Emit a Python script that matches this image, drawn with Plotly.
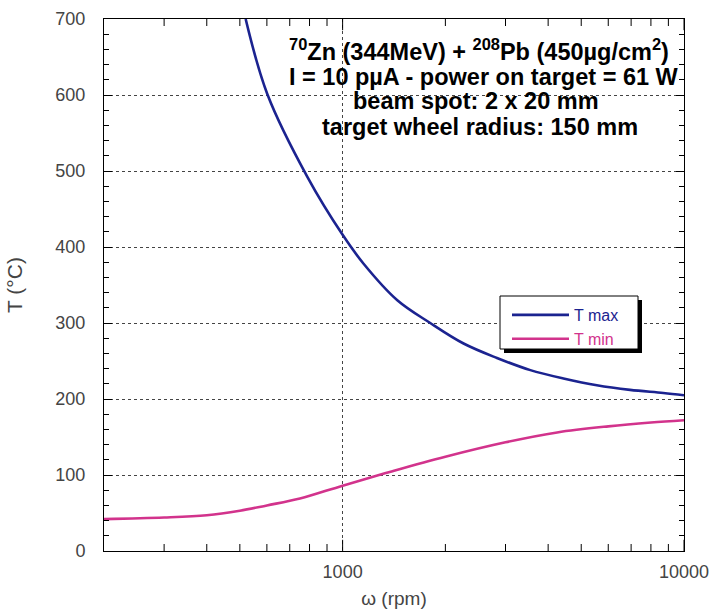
import plotly.graph_objects as go
import math

# ---- data ----
tmax_rpm = [520, 602, 789, 1000, 1152, 1446, 1806, 2261, 2832, 3548, 4435, 5554, 6950, 8700, 10000]
tmax_T = [700, 601, 492, 416, 378, 330, 300, 273, 254, 238, 227, 218, 212, 208, 205]

tmin_rpm = [200, 300, 400, 500, 600, 750, 1000, 1400, 2000, 3000, 4250, 6000, 8000, 10000]
tmin_T = [42, 44, 47, 53, 60, 69, 86, 105, 124, 143, 156, 164, 169, 172]

x_major = [1000, 10000]
x_major_text = ["1000", "10000"]
x_minor = [300, 400, 500, 600, 700, 800, 900, 2000, 3000, 4000, 5000, 6000, 7000, 8000, 9000]
y_major = [0, 100, 200, 300, 400, 500, 600, 700]

text_lines = [
    "<b><sup>70</sup>Zn (344MeV) + <sup>208</sup>Pb (450µg/cm<sup>2</sup>)</b>",
    "<b>I = 10 pµA - power on target = 61 W</b>",
    "<b>beam spot: 2 x 20 mm</b>",
    "<b>target wheel radius: 150 mm</b>",
]

# ---- layout geometry ----
W, H = 710, 609
L, R, T, B = 104, 26, 19, 58
pw, ph = W - L - R, H - T - B
X_MIN, X_MAX = 200, 10000
Y_MIN, Y_MAX = 0, 700

def px_x(px):
    return (px - L) / pw

def px_y(py):
    return (H - B - py) / ph

BLUE = "#1b2390"
MAG = "#d2338c"
FONT = "Liberation Sans, Arial, Helvetica, sans-serif"

fig = go.Figure()
fig.add_trace(go.Scatter(x=tmax_rpm, y=tmax_T, mode="lines",
                         line=dict(color=BLUE, width=2.6, shape="spline", smoothing=1.0),
                         name=f"<span style='color:{BLUE}'>T max</span>"))
fig.add_trace(go.Scatter(x=tmin_rpm, y=tmin_T, mode="lines",
                         line=dict(color=MAG, width=2.6, shape="spline", smoothing=1.0),
                         name=f"<span style='color:{MAG}'>T min</span>"))

# inward x-axis ticks (bottom and top): line markers centred on the frame,
# the outer half is clipped by the plot area
for xv, size in [(x_major, 16), (x_minor, 10)]:
    fig.add_trace(go.Scatter(x=xv + xv, y=[Y_MIN] * len(xv) + [Y_MAX] * len(xv),
                             mode="markers", showlegend=False, hoverinfo="skip",
                             cliponaxis=True,
                             marker=dict(symbol="line-ns", size=size, color="black",
                                         line=dict(width=1, color="black"))))

fig.update_layout(
    xaxis=dict(
        type="log", range=[math.log10(X_MIN), math.log10(X_MAX)], automargin=False,
        tickmode="array", tickvals=x_major, ticktext=x_major_text, ticks="",
        showline=True, linecolor="black", linewidth=1, mirror=True,
        showgrid=True, gridcolor="#444", griddash="dot", gridwidth=1, zeroline=False,
        tickfont=dict(family=FONT, size=18, color="#444"),
        ticklabelstandoff=4,
        title=dict(text="ω (rpm)", font=dict(family=FONT, size=19, color="#444"), standoff=19),
    ),
    yaxis=dict(
        range=[Y_MIN, Y_MAX], tickmode="array", tickvals=y_major, automargin=False,
        ticks="inside", ticklen=8, tickwidth=1, tickcolor="black",
        minor=dict(dtick=20, ticks="inside", ticklen=5, tickwidth=1, tickcolor="black",
                   showgrid=False),
        showline=True, linecolor="black", linewidth=1, mirror="allticks",
        showgrid=True, gridcolor="#444", griddash="dot", gridwidth=1, zeroline=False,
        tickfont=dict(family=FONT, size=18, color="#444"),
        ticklabelstandoff=14,
        title=dict(text="T (°C)", font=dict(family=FONT, size=21, color="#444"), standoff=27),
    ),
)

centers_y = [50, 77, 101, 127]
centers_x = [479, 484, 476, 480]
for txt, cy, cx in zip(text_lines, centers_y, centers_x):
    fig.add_annotation(text=txt, xref="paper", yref="paper", x=px_x(cx), y=px_y(cy),
                       xanchor="center", yanchor="middle", showarrow=False,
                       font=dict(family=FONT, size=23.5, color="black"))

# legend box with drop shadow
fig.add_shape(type="rect", xref="paper", yref="paper",
              x0=px_x(504), x1=px_x(642), y0=px_y(353), y1=px_y(300),
              fillcolor="black", line=dict(width=0), layer="above")
fig.add_shape(type="rect", xref="paper", yref="paper",
              x0=px_x(500), x1=px_x(638), y0=px_y(349), y1=px_y(296),
              fillcolor="white", line=dict(width=1, color="black"), layer="above")

fig.update_layout(
    width=W, height=H,
    margin=dict(l=L, r=R, t=T, b=B),
    paper_bgcolor="white", plot_bgcolor="white",
    font=dict(family=FONT),
    showlegend=True,
    legend=dict(x=px_x(507), y=px_y(298), xanchor="left", yanchor="top",
                bgcolor="rgba(0,0,0,0)", borderwidth=0,
                font=dict(family=FONT, size=16), itemwidth=57,
                tracegroupgap=0),
)

fig.write_html("out.html")
